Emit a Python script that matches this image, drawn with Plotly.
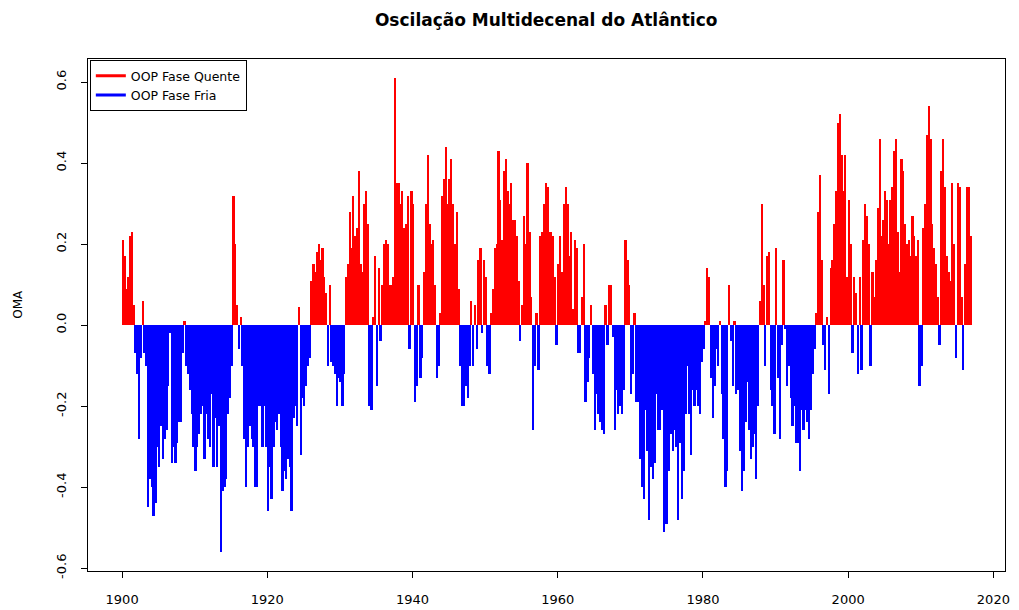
import plotly.graph_objects as go

# Ano inicial de cada linha de valores (4 valores trimestrais por ano)
anos = list(range(1900, 2017))

# Índice OMA (valores trimestrais estimados a partir da figura)
oma = [
    [0.21, 0.17, 0.09, 0.12], [0.22, 0.23, 0.05, -0.07], [-0.12, -0.28, -0.08, 0.06], [-0.07, -0.10, -0.45, -0.38],
    [-0.40, -0.47, -0.44, -0.30], [-0.35, -0.25, -0.33, -0.28], [-0.26, -0.15, -0.02, -0.34], [-0.30, -0.34, -0.29, -0.24],
    [-0.24, -0.07, 0.01, -0.10], [-0.12, -0.16, -0.22, -0.30],
    [-0.36, -0.30, -0.27, -0.22], [-0.20, -0.33, -0.22, -0.28], [-0.30, -0.17, -0.35, -0.23], [-0.35, -0.25, -0.56, -0.41],
    [-0.40, -0.38, -0.22, -0.18], [-0.10, 0.32, 0.20, 0.05], [-0.06, 0.02, -0.10, -0.28], [-0.40, -0.30, -0.25, -0.28],
    [-0.30, -0.40, -0.40, -0.20], [-0.20, -0.30, -0.20, -0.30],
    [-0.46, -0.35, -0.43, -0.30], [-0.24, -0.26, -0.22, -0.30], [-0.41, -0.36, -0.38, -0.33], [-0.35, -0.46, -0.23, -0.20],
    [-0.25, 0.045, -0.32, -0.18], [-0.20, -0.15, -0.10, -0.08], [0.11, 0.15, 0.13, 0.18], [0.20, 0.16, 0.19, 0.12],
    [0.08, -0.10, 0.10, -0.09], [-0.10, -0.12, -0.20, -0.13],
    [-0.14, -0.20, -0.12, 0.12], [0.15, 0.28, 0.19, 0.32], [0.22, 0.24, 0.38, 0.15], [0.13, 0.30, 0.33, 0.25],
    [-0.20, -0.21, 0.02, 0.17], [-0.15, 0.14, -0.04, 0.10], [0.20, 0.21, 0.20, 0.10], [0.10, 0.12, 0.61, 0.35],
    [0.35, 0.30, 0.33, 0.24], [0.25, 0.32, -0.06, 0.33],
    [0.30, -0.19, -0.15, 0.10], [-0.13, -0.08, 0.13, 0.30], [0.42, 0.25, 0.20, 0.21], [0.10, -0.13, -0.10, 0.03],
    [0.32, 0.36, 0.44, 0.30], [0.36, 0.41, 0.30, 0.20], [0.28, 0.09, -0.10, -0.20], [-0.20, -0.15, -0.18, -0.10],
    [0.06, -0.10, 0.05, -0.06], [0.16, 0.19, -0.02, 0.16],
    [0.12, -0.10, -0.12, 0.03], [0.09, 0.19, 0.20, 0.43], [0.31, 0.21, 0.38, 0.41], [0.33, 0.30, 0.35, 0.26],
    [0.26, 0.22, 0.11, -0.04], [0.05, 0.27, 0.20, 0.40], [0.23, 0.07, -0.26, -0.10], [0.03, -0.11, 0.22, 0.23],
    [0.30, 0.35, 0.34, 0.23], [0.23, 0.22, 0.12, -0.05],
    [0.15, 0.22, 0.13, 0.30], [0.34, 0.30, 0.17, 0.23], [0.04, 0.21, 0.19, -0.07], [-0.07, 0.07, 0.20, -0.19],
    [-0.14, -0.08, 0.05, -0.12], [-0.26, -0.17, -0.22, -0.24], [-0.26, -0.27, 0.05, -0.05], [0.10, 0.10, -0.03, -0.26],
    [-0.16, -0.22, -0.20, -0.22], [-0.16, 0.21, 0.16, 0.10],
    [-0.17, -0.12, 0.03, -0.19], [-0.19, -0.33, -0.40, -0.43], [-0.21, -0.31, -0.48, -0.35], [-0.38, -0.34, -0.17, -0.26],
    [-0.26, -0.21, -0.51, -0.49], [-0.49, -0.36, -0.27, -0.31], [-0.26, -0.30, -0.48, -0.29], [-0.43, -0.36, -0.22, -0.10],
    [-0.22, -0.32, -0.16, -0.20], [-0.16, -0.20, -0.22, -0.09],
    [-0.06, 0.01, 0.14, 0.12], [-0.13, -0.23, -0.15, -0.06], [-0.10, 0.01, -0.17, -0.28], [-0.40, -0.36, 0.10, -0.04],
    [-0.15, 0.01, -0.17, -0.16], [-0.31, -0.41, -0.36, -0.24], [-0.14, -0.26, -0.33, -0.30], [-0.27, -0.38, -0.20, 0.06],
    [0.30, 0.10, -0.10, 0.17], [0.18, -0.16, -0.20, -0.27],
    [0.19, -0.13, -0.28, -0.05], [0.16, -0.01, -0.15, -0.10], [-0.18, -0.25, -0.20, -0.29], [-0.29, -0.36, -0.21, -0.26],
    [-0.21, -0.24, -0.28, -0.21], [-0.12, -0.06, 0.03, 0.28], [0.37, 0.16, -0.05, -0.11], [0.02, -0.17, 0.14, 0.16],
    [0.25, 0.33, 0.50, 0.52], [0.42, 0.33, 0.42, 0.12],
    [0.31, 0.20, -0.07, 0.12], [0.08, -0.12, 0.12, -0.11], [0.21, 0.30, 0.27, 0.20], [-0.10, 0.13, 0.07, 0.16],
    [0.29, 0.46, 0.22, 0.26], [0.33, 0.31, 0.20, 0.31], [0.34, 0.43, 0.46, 0.23], [0.13, 0.41, 0.38, 0.25],
    [0.20, 0.21, 0.17, 0.27], [0.22, 0.17, 0.21, -0.15],
    [-0.10, 0.24, 0.30, 0.47], [0.54, 0.46, 0.25, 0.19], [0.15, 0.07, -0.05, 0.38], [0.46, 0.34, 0.17, 0.13],
    [0.11, 0.35, 0.20, -0.08], [0.35, 0.34, 0.07, -0.11], [0.15, 0.34, 0.34, 0.22],
]

x_ticks = [1900, 1920, 1940, 1960, 1980, 2000, 2020]
y_ticks = [-0.6, -0.4, -0.2, 0.0, 0.2, 0.4, 0.6]
y_ticklabels = ["-0.6", "-0.4", "-0.2", "0.0", "0.2", "0.4", "0.6"]

# Construção das séries (tempo decimal)
t, v = [], []
for ano, vals in zip(anos, oma):
    for q, val in enumerate(vals):
        t.append(ano + q / 4 + 0.125)
        v.append(val)

t_pos = [ti for ti, vi in zip(t, v) if vi >= 0]
v_pos = [vi for vi in v if vi >= 0]
t_neg = [ti for ti, vi in zip(t, v) if vi < 0]
v_neg = [vi for vi in v if vi < 0]

FONT = "DejaVu Sans, Liberation Sans, Arial, sans-serif"

fig = go.Figure()
fig.add_trace(go.Bar(x=t_pos, y=v_pos, width=0.25, marker=dict(color="#ff0000", line=dict(width=0)),
                     showlegend=False))
fig.add_trace(go.Bar(x=t_neg, y=v_neg, width=0.25, marker=dict(color="#0000ff", line=dict(width=0)),
                     showlegend=False))
# Entradas da legenda (linhas)
fig.add_trace(go.Scatter(x=[None], y=[None], mode="lines", line=dict(color="#ff0000", width=3),
                         name="OOP Fase Quente"))
fig.add_trace(go.Scatter(x=[None], y=[None], mode="lines", line=dict(color="#0000ff", width=3),
                         name="OOP Fase Fria"))

fig.update_layout(
    width=1019, height=610,
    margin=dict(l=88, r=14, t=59, b=39, autoexpand=False),
    paper_bgcolor="white", plot_bgcolor="white",
    barmode="overlay", bargap=0,
    font=dict(family=FONT, color="#000000", size=12),
    title=dict(text="<b>Oscilação Multidecenal do Atlântico</b>", x=0.536, xanchor="center",
               y=0.967, yanchor="middle", font=dict(size=17, family=FONT)),
    legend=dict(x=0.002, y=0.998, xanchor="left", yanchor="top", bgcolor="white",
                bordercolor="#000000", borderwidth=1, font=dict(size=12.5, family=FONT),
                itemwidth=30, tracegroupgap=0),
    xaxis=dict(range=[1895.3, 2021.6], tickvals=x_ticks, ticks="outside", ticklen=6,
               tickcolor="#000000", showgrid=False, zeroline=False, showline=True,
               linecolor="#000000", linewidth=1, mirror=True, tickfont=dict(size=13),
               ticklabelstandoff=10, automargin=False),
    yaxis=dict(range=[-0.607, 0.657], tickvals=y_ticks, ticktext=y_ticklabels, ticks="outside",
               ticklen=6, tickcolor="#000000", tickangle=-90, showgrid=False, zeroline=False,
               showline=True, linecolor="#000000", linewidth=1, mirror=True,
               tickfont=dict(size=13), ticklabelstandoff=10, automargin=False),
    annotations=[dict(text="OMA", xref="paper", yref="paper", x=-0.0763, y=0.52,
                      xanchor="center", yanchor="middle", textangle=-90, showarrow=False,
                      font=dict(size=12, family=FONT))],
)

fig.write_html("out.html", config={"displayModeBar": False},
               post_script="document.body.style.margin='0';")
